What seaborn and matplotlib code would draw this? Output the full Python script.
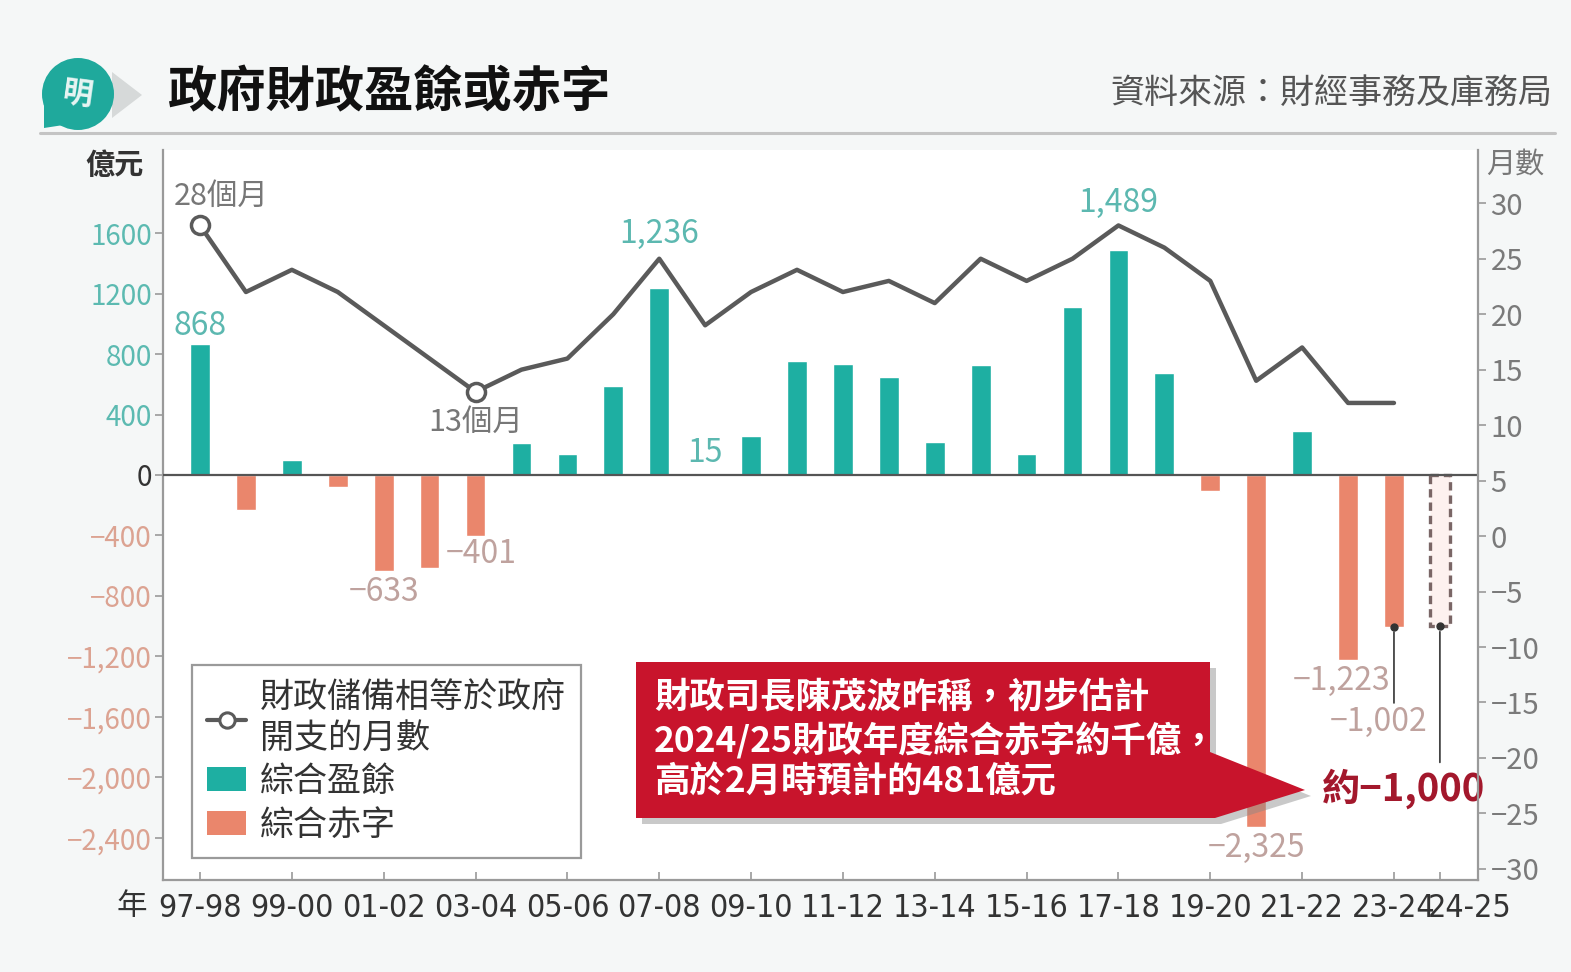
import numpy as np
import pandas as pd
import matplotlib
matplotlib.use("Agg")
import matplotlib.pyplot as plt
import matplotlib.transforms as mtransforms
import seaborn as sns
from matplotlib import font_manager
from matplotlib.font_manager import FontProperties
from matplotlib.lines import Line2D
from matplotlib.patches import Patch, Polygon, Circle

# ---------- setup ----------
sns.set_theme(style="white")
plt.rcParams["font.family"] = ["Noto Sans CJK TC", "DejaVu Sans"]
plt.rcParams["axes.unicode_minus"] = True

W, H = 1571, 972
BG = "#f5f7f7"
TEAL = "#1eafa2"
SALMON = "#ea866c"
LINE = "#5a5a5a"
RED = "#c8142c"

# ---------- data ----------
years = ["97-98", "98-99", "99-00", "00-01", "01-02", "02-03", "03-04",
         "04-05", "05-06", "06-07", "07-08", "08-09", "09-10", "10-11",
         "11-12", "12-13", "13-14", "14-15", "15-16", "16-17", "17-18",
         "18-19", "19-20", "20-21", "21-22", "22-23", "23-24", "24-25"]
# 綜合盈餘 / 赤字 (億元); last one is the preliminary estimate
balance = [868, -232, 100, -78, -633, -617, -401, 214, 140, 586, 1236, 15,
           259, 751, 737, 648, 218, 728, 142, 1110, 1489, 676, -106, -2325,
           290, -1223, -1002, -1000]
# 財政儲備相等於政府開支的月數 (97-98 .. 23-24)
reserve_months = [28, 22, 24, 22, 19, 16, 13, 15, 16, 20, 25, 19, 22, 24,
                  22, 23, 21, 25, 23, 25, 28, 26, 23, 14, 17, 12, 12]

left_ticks = [1600, 1200, 800, 400, 0, -400, -800, -1200, -1600, -2000, -2400]
left_tick_labels = ["1600", "1200", "800", "400", "0", "−400", "−800",
                    "−1,200", "−1,600", "−2,000", "−2,400"]
right_ticks = [30, 25, 20, 15, 10, 5, 0, -5, -10, -15, -20, -25, -30]
right_tick_labels = ["30", "25", "20", "15", "10", "5", "0", "−5", "−10",
                     "−15", "−20", "−25", "−30"]
shown_years = ["97-98", "99-00", "01-02", "03-04", "05-06", "07-08", "09-10",
               "11-12", "13-14", "15-16", "17-18", "19-20", "21-22", "23-24",
               "24-25"]

kinds = ["surplus" if v >= 0 else "deficit" for v in balance]
kinds[-1] = "estimate"
df = pd.DataFrame({"year": years, "value": balance, "kind": kinds})


def fx(x):
    return x / W


def fy(y):
    return 1 - y / H


def inch(x, y):
    return (x / 100, (H - y) / 100)


# narrow font for the year labels, if one is installed
narrow_file = None
for f in font_manager.fontManager.ttflist:
    is_narrow = (f.stretch in ("condensed", "semi-condensed", "extra-condensed")
                 or "Narrow" in f.name or "Condensed" in f.name)
    if is_narrow and f.style == "normal" and f.weight in (400, "normal", "regular"):
        narrow_file = f.fname
        break
if narrow_file:
    year_font = FontProperties(fname=narrow_file, size=23)
else:
    year_font = FontProperties(family=["Liberation Sans", "DejaVu Sans"],
                               size=17.5)

# ---------- figure ----------
fig = plt.figure(figsize=(W / 100, H / 100), dpi=100, facecolor=BG)
ax = fig.add_axes([fx(163), fy(880), (1478 - 163) / W, (880 - 150) / H])
ax.set_facecolor("white")

sns.barplot(data=df, x="year", y="value", hue="kind", order=years,
            hue_order=["surplus", "deficit", "estimate"],
            palette={"surplus": TEAL, "deficit": SALMON, "estimate": "#fdf1ef"},
            dodge=False, width=0.43, saturation=1, legend=False, ax=ax,
            zorder=3)

est_idx = len(years) - 1
for p in ax.patches:
    if abs(p.get_x() + p.get_width() / 2 - est_idx) < 0.1:
        p.set_edgecolor("#7a6666")
        p.set_linestyle((0, (2.5, 1.5)))
        p.set_linewidth(2.4)

ax.set_xlim(-0.806, 27.83)
ax.set_ylim(-2678, 2149)
ax.axhline(0, color="#555555", lw=1.6, zorder=4)

for s in ["top", "right"]:
    ax.spines[s].set_visible(False)
for s in ["left", "bottom"]:
    ax.spines[s].set_color("#9a9a9a")
    ax.spines[s].set_linewidth(1.6)

ax.set_xlabel("")
ax.set_ylabel("")
ax.set_xticks([years.index(y) for y in shown_years], shown_years)
ax.tick_params(axis="x", direction="in", length=6, width=1.2, color="#9a9a9a",
               labelcolor="#333333", pad=9, bottom=True)
for lbl in ax.get_xticklabels():
    lbl.set_fontproperties(year_font)
# the last label sits to the right of its tick, as in the original
last = ax.get_xticklabels()[-1]
last.set_transform(last.get_transform() + mtransforms.ScaledTranslation(
    30 / 100, 0, fig.dpi_scale_trans))

ax.set_yticks(left_ticks, left_tick_labels)
ax.tick_params(axis="y", direction="out", length=6, width=1.2, color="#9a9a9a",
               labelsize=20, pad=2, left=True)
for lbl, v in zip(ax.get_yticklabels(), left_ticks):
    lbl.set_color("#5cbab1" if v > 0 else ("#333333" if v == 0 else "#dca392"))

# ---------- line on the right axis ----------
ax2 = ax.twinx()
ax2.set_ylim(-31.0, 34.8)
line_x = np.arange(len(reserve_months))
sns.lineplot(x=line_x, y=reserve_months, ax=ax2, color=LINE, lw=3.2)
marks = [0, 6]
ax2.plot(line_x[marks], np.array(reserve_months)[marks], "o", ms=13,
         mfc="white", mec=LINE, mew=2.5, zorder=5)

for s in ["top", "left", "bottom"]:
    ax2.spines[s].set_visible(False)
ax2.spines["right"].set_color("#9a9a9a")
ax2.spines["right"].set_linewidth(1.6)
ax2.set_yticks(right_ticks, right_tick_labels)
ax2.tick_params(axis="y", direction="out", length=6, width=1.2, color="#9a9a9a",
                labelsize=21, labelcolor="#7a7a7a", pad=3, right=True)
ax2.grid(False)
ax.grid(False)

ax2.annotate(f"{reserve_months[0]}個月", (0, reserve_months[0]),
             xytext=(15, 21), textcoords="offset points", ha="center",
             va="center", fontsize=22, color="#777777")
ax2.annotate(f"{reserve_months[6]}個月", (6, reserve_months[6]),
             xytext=(0, -22), textcoords="offset points", ha="center",
             va="center", fontsize=22, color="#777777")

# ---------- value labels ----------
POS_C = "#5cb8b0"
NEG_C = "#bfa29e"
labels = [("97-98", 0, 13), ("07-08", 0, 39), ("08-09", 0, 14),
          ("17-18", 0, 34), ("01-02", 0, -15), ("03-04", 4, -13),
          ("20-21", 0, -15), ("22-23", -5, -15), ("23-24", -11, -69)]
for yr, dx, dy in labels:
    i = years.index(yr)
    v = balance[i]
    txt = f"{v:,}".replace("-", "−")
    ax.annotate(txt, (i, v), xytext=(dx, dy), textcoords="offset points",
                ha="center", va="center", fontsize=23,
                color=POS_C if v > 0 else NEG_C, zorder=6)

# connector lines with dots
for yr, length in [("23-24", 55), ("24-25", 98)]:
    i = years.index(yr)
    v = balance[i]
    ax.annotate("", xy=(i, v), xycoords="data",
                xytext=(0, -length), textcoords="offset points",
                arrowprops=dict(arrowstyle="-", color="#444444", lw=1.3,
                                shrinkA=0, shrinkB=4), zorder=6)
    ax.plot([i], [v], "o", ms=5, color="#333333", zorder=7)

ax.annotate(f"約{balance[-1]:,}".replace("-", "−"), (est_idx, balance[-1]),
            xytext=(-26, -117), textcoords="offset points", ha="center",
            va="center", fontsize=27.5, fontweight="bold", color="#a3182c",
            zorder=8)

# ---------- legend ----------
handles = [
    Line2D([0], [0], color=LINE, lw=3, marker="o", ms=11, mfc="white",
           mec=LINE, mew=2.2),
    Patch(facecolor=TEAL, edgecolor="none"),
    Patch(facecolor=SALMON, edgecolor="none"),
]
leg = ax.legend(handles, ["財政儲備相等於政府\n開支的月數", "綜合盈餘", "綜合赤字"],
                loc="lower left", bbox_to_anchor=(29 / 1315, 22 / 730),
                fontsize=24.5, frameon=True, fancybox=False, framealpha=1,
                edgecolor="#9a9a9a", handlelength=1.15, handletextpad=0.4,
                labelspacing=0.25, borderpad=0.45, labelcolor="#333333",
                borderaxespad=0)
leg.get_frame().set_linewidth(1.6)
leg.set_zorder(10)

# ---------- callout ----------
box = [(636, 662), (1210, 662), (1210, 752), (1305, 790), (1215, 818),
       (636, 818)]
shadow = Polygon([inch(x + 6, y + 6) for x, y in box], closed=True,
                 transform=fig.dpi_scale_trans, facecolor="#888888",
                 alpha=0.45, edgecolor="none", zorder=20)
call = Polygon([inch(x, y) for x, y in box], closed=True,
               transform=fig.dpi_scale_trans, facecolor=RED,
               edgecolor="none", zorder=21)
fig.add_artist(shadow)
fig.add_artist(call)
for txt, y in [("財政司長陳茂波昨稱，初步估計", 697),
               ("2024/25財政年度綜合赤字約千億，", 741),
               ("高於2月時預計的481億元", 782)]:
    fig.text(fx(654), fy(y), txt, ha="left", va="center", fontsize=25.5,
             fontweight="bold", color="white", zorder=22)

# ---------- header ----------
fig.text(fx(168), fy(93), "政府財政盈餘或赤字", ha="left", va="center",
         fontsize=35.5, fontweight="bold", color="#111111")
fig.text(fx(1552), fy(93), "資料來源：財經事務及庫務局", ha="right",
         va="center", fontsize=24.5, color="#555555")
fig.add_artist(Line2D([fx(40), fx(1555)], [fy(133), fy(133)],
                      color="#c4c4c4", lw=2.2))

# logo
fig.add_artist(Polygon([inch(112, 72), inch(142, 95), inch(112, 118)],
                       closed=True, transform=fig.dpi_scale_trans,
                       facecolor="#d6d9d9", edgecolor="none"))
fig.add_artist(Polygon([inch(44, 100), inch(44, 128), inch(70, 124)],
                       closed=True, transform=fig.dpi_scale_trans,
                       facecolor="#1fa99c", edgecolor="none"))
fig.add_artist(Circle(inch(78, 94), 0.36, transform=fig.dpi_scale_trans,
                      facecolor="#1fa99c", edgecolor="none"))
fig.text(fx(78), fy(95), "明", ha="center", va="center", fontsize=22,
         fontweight="bold", color="#e8f5f3", rotation=-8)

# axis unit labels
fig.text(fx(115), fy(165), "億元", ha="center", va="center", fontsize=21,
         fontweight="bold", color="#333333")
fig.text(fx(1515), fy(165), "月數", ha="center", va="center", fontsize=21,
         color="#777777")
fig.text(fx(132), fy(906), "年", ha="center", va="center", fontsize=22,
         color="#333333")

fig.savefig("out.png", dpi=100, facecolor=BG)
